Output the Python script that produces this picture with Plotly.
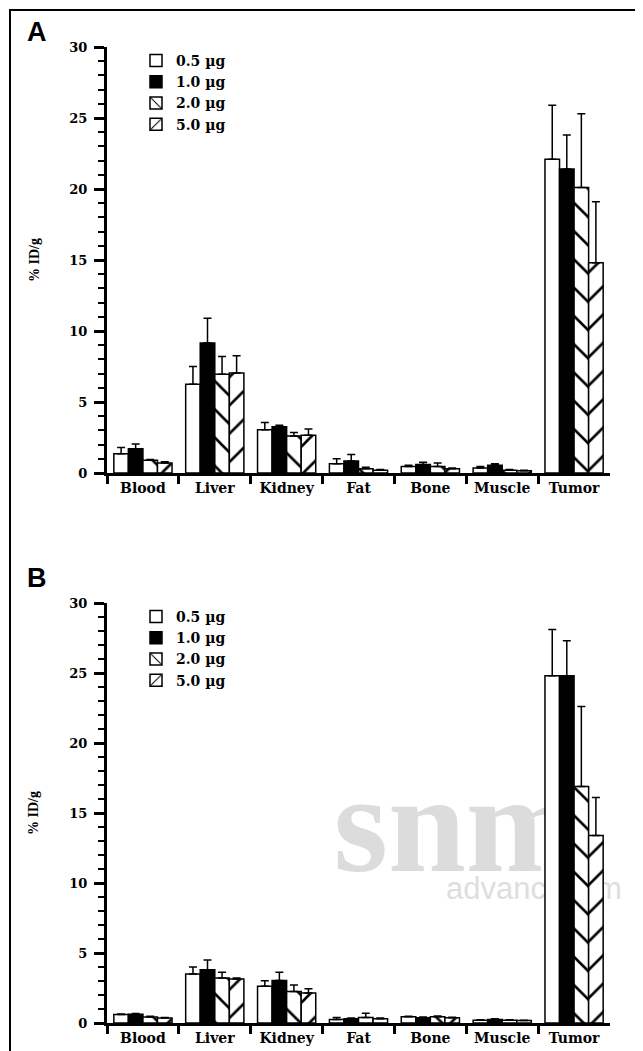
import plotly.graph_objects as go

W, H = 643, 1051

organs = ["Blood", "Liver", "Kidney", "Fat", "Bone", "Muscle", "Tumor"]
doses = ["0.5 µg", "1.0 µg", "2.0 µg", "5.0 µg"]

# Panel A: mean %ID/g per dose (columns = organs)
a_05 = [1.35, 6.25, 3.05, 0.65, 0.45, 0.35, 22.1]
a_10 = [1.70, 9.15, 3.25, 0.85, 0.60, 0.55, 21.4]
a_20 = [0.90, 6.95, 2.60, 0.30, 0.45, 0.20, 20.1]
a_50 = [0.70, 7.05, 2.65, 0.20, 0.30, 0.15, 14.8]
a_05_err = [0.45, 1.25, 0.50, 0.35, 0.10, 0.10, 3.8]
a_10_err = [0.35, 1.75, 0.12, 0.45, 0.15, 0.10, 2.4]
a_20_err = [0.05, 1.25, 0.25, 0.10, 0.25, 0.05, 5.2]
a_50_err = [0.10, 1.20, 0.45, 0.05, 0.05, 0.05, 4.3]

# Panel B
b_05 = [0.60, 3.50, 2.63, 0.25, 0.45, 0.20, 24.8]
b_10 = [0.62, 3.80, 3.03, 0.30, 0.38, 0.25, 24.8]
b_20 = [0.42, 3.22, 2.25, 0.40, 0.45, 0.20, 16.9]
b_50 = [0.36, 3.15, 2.15, 0.30, 0.38, 0.18, 13.4]
b_05_err = [0.04, 0.50, 0.38, 0.15, 0.03, 0.03, 3.3]
b_10_err = [0.05, 0.70, 0.60, 0.05, 0.05, 0.05, 2.5]
b_20_err = [0.06, 0.40, 0.47, 0.30, 0.05, 0.03, 5.7]
b_50_err = [0.04, 0.06, 0.30, 0.05, 0.03, 0.02, 2.7]

y_ticks = [0, 5, 10, 15, 20, 25, 30]


def px_x(p):
    return p / W


def px_y(p):
    return 1 - p / H


SERIF = "DejaVu Serif"
styles = [
    dict(color="white", pattern=None),
    dict(color="black", pattern=None),
    dict(color="white", pattern=dict(shape="\\", size=20, solidity=0.13, fgcolor="black", bgcolor="white", fillmode="replace")),
    dict(color="white", pattern=dict(shape="/", size=20, solidity=0.13, fgcolor="black", bgcolor="white", fillmode="replace")),
]

fig = go.Figure()

panels = [
    ("x", "y", "legend", [a_05, a_10, a_20, a_50], [a_05_err, a_10_err, a_20_err, a_50_err]),
    ("x2", "y2", "legend2", [b_05, b_10, b_20, b_50], [b_05_err, b_10_err, b_20_err, b_50_err]),
]

for xa, ya, lg, vals, errs in panels:
    for i, (d, v, e) in enumerate(zip(doses, vals, errs)):
        marker = dict(color=styles[i]["color"], line=dict(color="black", width=1.5))
        if styles[i]["pattern"] is not None:
            marker["pattern"] = styles[i]["pattern"]
        fig.add_trace(go.Bar(
            x=organs, y=v, name=d, xaxis=xa, yaxis=ya, legend=lg,
            marker=marker,
            error_y=dict(type="data", array=e, arrayminus=[0] * len(e), symmetric=False,
                         color="black", thickness=1.5, width=4),
        ))

xcommon = dict(
    type="category", showline=True, linecolor="black", linewidth=3,
    ticks="outside", tickson="boundaries", ticklen=8, tickwidth=3, tickcolor="black",
    tickfont=dict(family=SERIF, size=14, color="black", weight="bold"),
    showgrid=False, zeroline=False, fixedrange=True, automargin=False,
)
ycommon = dict(
    range=[0, 30], tickvals=y_ticks, showline=True, linecolor="black", linewidth=3,
    ticks="outside", ticklen=10, tickwidth=2.5, tickcolor="black",
    minor=dict(dtick=1, ticks="outside", ticklen=6, tickwidth=2, tickcolor="black"),
    tickfont=dict(family=SERIF, size=13, color="black", weight="bold"),
    ticklabelstandoff=4,
    showgrid=False, zeroline=False, fixedrange=True, automargin=False,
)

xdom = [px_x(99), px_x(602)]
legend_font = dict(family=SERIF, size=14, color="black", weight="bold")
fig.update_layout(
    width=W, height=H,
    margin=dict(l=0, r=0, t=0, b=0),
    paper_bgcolor="white", plot_bgcolor="rgba(0,0,0,0)",
    barmode="group", bargap=0.19, bargroupgap=0,
    xaxis=dict(domain=xdom, anchor="y", **xcommon),
    yaxis=dict(domain=[px_y(465), px_y(39)], anchor="x", **ycommon),
    xaxis2=dict(domain=xdom, anchor="y2", **xcommon),
    yaxis2=dict(domain=[px_y(1015), px_y(595)], anchor="x2", **ycommon),
    legend=dict(x=px_x(128), y=px_y(37), xanchor="left", yanchor="top",
                bgcolor="rgba(0,0,0,0)", tracegroupgap=0, traceorder="normal", font=legend_font),
    legend2=dict(x=px_x(128), y=px_y(593), xanchor="left", yanchor="top",
                 bgcolor="rgba(0,0,0,0)", tracegroupgap=0, traceorder="normal", font=legend_font),
    showlegend=True,
)

annotations = [
    dict(text="A", x=px_x(17), y=px_y(24), xanchor="left", yanchor="middle",
         font=dict(family="Liberation Sans", size=27, color="black", weight="bold")),
    dict(text="B", x=px_x(17), y=px_y(570), xanchor="left", yanchor="middle",
         font=dict(family="Liberation Sans", size=27, color="black", weight="bold")),
    dict(text="% ID/g", x=px_x(26), y=px_y(252), textangle=-90, xanchor="center", yanchor="middle",
         font=dict(family="Liberation Serif", size=14, color="black", weight="bold")),
    dict(text="% ID/g", x=px_x(26), y=px_y(805), textangle=-90, xanchor="center", yanchor="middle",
         font=dict(family="Liberation Serif", size=14, color="black", weight="bold")),
]
for a in annotations:
    a.update(xref="paper", yref="paper", showarrow=False)
fig.update_layout(annotations=annotations)

shapes = [
    # outer frame
    dict(type="rect", xref="paper", yref="paper", x0=px_x(2), x1=px_x(641), y0=-0.01, y1=px_y(2),
         line=dict(color="black", width=2), fillcolor="rgba(0,0,0,0)", layer="above"),
    # faint watermark (behind the bars)
    dict(type="rect", xref="paper", yref="paper", x0=px_x(325), x1=px_x(575), y0=px_y(858), y1=px_y(742),
         line=dict(width=0), fillcolor="rgba(0,0,0,0)", layer="below",
         label=dict(text="snm", font=dict(family="Liberation Serif", size=140, color="#dcdcdc", weight="bold"),
                    textposition="middle center")),
    dict(type="rect", xref="paper", yref="paper", x0=px_x(432), x1=px_x(636), y0=px_y(895), y1=px_y(860),
         line=dict(width=0), fillcolor="rgba(0,0,0,0)", layer="below",
         label=dict(text="advancing m", font=dict(family="Liberation Sans", size=31, color="#dedede"),
                    textposition="middle left")),
]
fig.update_layout(shapes=shapes)

fig.write_html("out.html")
